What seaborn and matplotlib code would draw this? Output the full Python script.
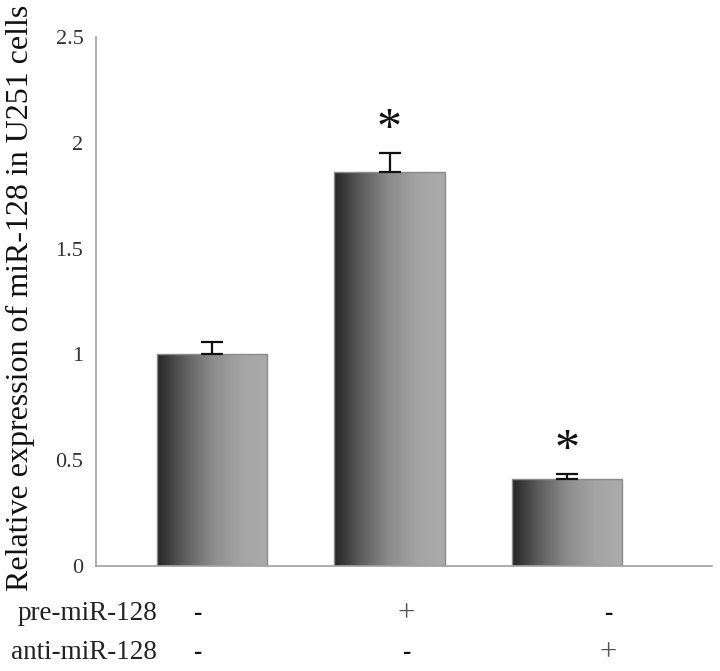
import numpy as np
import pandas as pd
import matplotlib
matplotlib.use("Agg")
import matplotlib.pyplot as plt
import seaborn as sns
from matplotlib.colors import LinearSegmentedColormap

# data
groups = ["control", "pre-miR-128", "anti-miR-128"]
values = [1.00, 1.86, 0.41]
errors = [0.06, 0.09, 0.025]
stars = ["", "*", "*"]
pre_row = ["-", "+", "-"]
anti_row = ["-", "-", "+"]
row_names = ["pre-miR-128", "anti-miR-128"]
yticks = [0, 0.5, 1, 1.5, 2, 2.5]
ytick_labels = ["0", "0.5", "1", "1.5", "2", "2.5"]

df = pd.DataFrame({"group": groups, "value": values, "err": errors})

sns.set_style("white")
plt.rcParams["font.family"] = ["Liberation Serif", "DejaVu Serif"]

fig = plt.figure(figsize=(7.2, 6.71), dpi=100)
ax = fig.add_axes([0.1333, 0.1565, 0.8557, 0.7884])

sns.barplot(data=df, x="group", y="value", color="#888888", width=0.62,
            edgecolor="#8a8a8a", linewidth=1.0, ax=ax)

# gradient fill clipped to each bar
cmap = LinearSegmentedColormap.from_list(
    "bargrad", ["#262626", "#5e5e5e", "#8c8c8c", "#a4a4a4", "#ababab"])
grad = np.linspace(0, 1, 256).reshape(1, -1)
for p in ax.patches:
    x0, y0 = p.get_x(), p.get_y()
    w, h = p.get_width(), p.get_height()
    im = ax.imshow(grad, cmap=cmap, aspect="auto", extent=[x0, x0 + w, y0, y0 + h],
                   zorder=p.get_zorder() + 0.1)
    im.set_clip_path(p)
    p.set_facecolor("none")
    p.set_zorder(p.get_zorder() + 0.2)

# one-sided error bars
xs = np.arange(len(groups))
ax.errorbar(xs, values, yerr=[np.zeros(len(errors)), errors], fmt="none",
            ecolor="#111111", elinewidth=1.6, capsize=8, capthick=1.6, zorder=5)

for x, v, e, s in zip(xs, values, errors, stars):
    if s:
        ax.text(x, v + e + 0.11, s, ha="center", va="center", fontsize=36,
                color="#111111")

ax.set_xlim(-0.652, 2.815)
ax.set_ylim(0, 2.5)
ax.set_yticks(yticks)
ax.set_yticklabels(ytick_labels, fontsize=16, color="#333333")
ax.set_xticks([])
ax.set_xlabel("")
ax.set_ylabel("")
ax.tick_params(axis="y", length=0, pad=9)

fig.text(0.028, 0.556, "Relative expression of miR-128 in U251 cells",
         rotation=90, ha="center", va="center", fontsize=23, color="#111111")

for side in ["top", "right"]:
    ax.spines[side].set_visible(False)
for side in ["left", "bottom"]:
    ax.spines[side].set_color("#a0a0a0")
    ax.spines[side].set_linewidth(1.2)

# treatment rows below the axis (x positions in figure fraction)
sign_x = [0.274, 0.564, 0.845]
for row_y, name, signs in [(0.085, row_names[0], pre_row),
                           (0.027, row_names[1], anti_row)]:
    fig.text(0.218, row_y, name, ha="right", va="center",
             fontsize=19.5, color="#222222")
    for x, s in zip(sign_x, signs):
        if s == "-":
            fig.text(x, row_y, "-", ha="center", va="center",
                     fontsize=18, fontweight="bold", color="#111111")
        else:
            fig.text(x, row_y, "+", ha="center", va="center",
                     fontsize=22, color="#555555")

fig.savefig("out.png", dpi=100)
